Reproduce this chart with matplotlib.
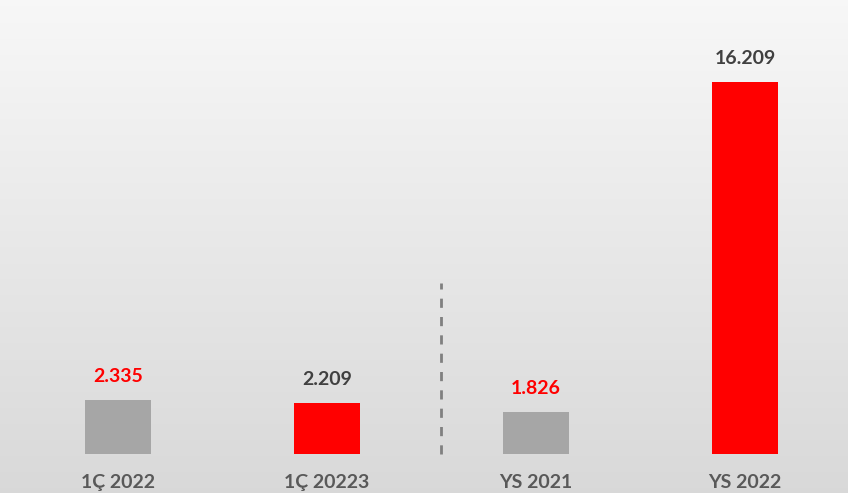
import numpy as np
import matplotlib.pyplot as plt

# data
categories = ['1Ç 2022', '1Ç 20223', 'YS 2021', 'YS 2022']
values = [2.335, 2.209, 1.826, 16.209]
value_labels = ['2.335', '2.209', '1.826', '16.209']
bar_colors = ['#a6a6a6', '#ff0000', '#a6a6a6', '#ff0000']
label_colors = ['#ff0000', '#404040', '#ff0000', '#404040']

plt.rcParams['font.family'] = ['Lato', 'DejaVu Sans']

fig = plt.figure(figsize=(8.48, 4.93), dpi=100)
ax = fig.add_axes([0, 0, 1, 1])

# background gradient (light at top, darker at bottom)
grad = np.linspace(0, 1, 256).reshape(-1, 1)
top = np.array([0.97, 0.97, 0.97])
bot = np.array([0.85, 0.85, 0.85])
img = top + (bot - top) * grad[..., None]
ax.imshow(img, extent=[0, 1, 0, 1], transform=ax.transAxes, aspect='auto', zorder=0)

x = np.arange(len(categories))
ax.bar(x, values, width=0.316, color=bar_colors, zorder=2)

for xi, v, lab, c in zip(x, values, value_labels, label_colors):
    ax.annotate(lab, (xi, v), xytext=(0, 11), textcoords='offset points',
                ha='center', va='bottom', fontsize=14, fontweight='bold', color=c)

# separator between quarter and yearly figures
ax.plot([1.545, 1.545], [0, 7.45], color='#808080', lw=2,
        dashes=(3.3, 3.3), zorder=1)

ax.set_xlim(-0.5646, 3.4928)
ax.set_ylim(-1.70, 19.78)

for xi, cat in zip(x, categories):
    ax.text(xi, -1.25, cat, ha='center', va='center', fontsize=14,
            fontweight='bold', color='#595959')

ax.axis('off')
fig.savefig('out.png', dpi=100)
